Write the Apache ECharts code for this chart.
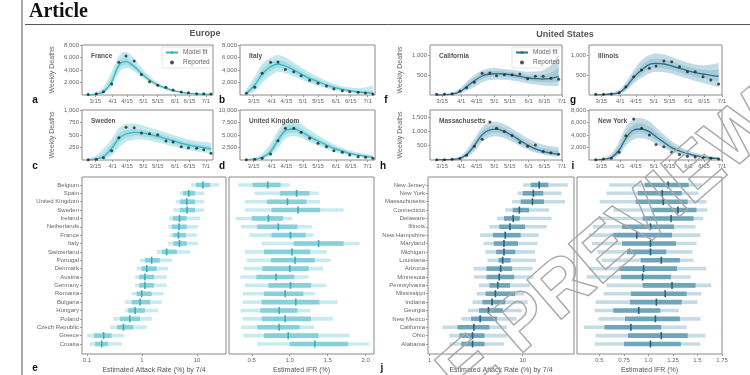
<!DOCTYPE html>
<html>
<head>
<meta charset="utf-8">
<script src="https://cdn.jsdelivr.net/npm/echarts@6/dist/echarts.min.js"></script>
<style>
html, body { margin: 0; padding: 0; background: #fff; }
#chart { width: 750px; height: 375px; }
</style>
</head>
<body>
<div id="chart"></div>
<script>
// x轴日期刻度（以3/1为第0天）
var dateTicks = [14, 31, 45, 61, 75, 92, 106, 122];
var dateLabels = ['3/15', '4/1', '4/15', '5/1', '5/15', '6/1', '6/15', '7/1'];
var euDays = [7, 15, 22, 30, 37, 44, 52, 59, 67, 75, 83, 90, 98, 105, 113, 120, 127];
var usDays = [9, 16, 23, 30, 36, 43, 50, 57, 63, 70, 77, 84, 91, 98, 105, 112, 119];

// 欧洲 每周死亡
var franceReported = [100, 200, 530, 1760, 5230, 6240, 5440, 3300, 2130, 1550, 1230, 800, 480, 370, 210, 210, 160];
var franceFit = [30, 120, 500, 2100, 4750, 5330, 4550, 3450, 2400, 1600, 1070, 700, 430, 270, 170, 120, 90];
var franceLo95 = [0, 40, 250, 1300, 3600, 4300, 3800, 2900, 2000, 1300, 850, 520, 300, 170, 90, 50, 30];
var franceHi95 = [150, 500, 1300, 3700, 6300, 6900, 5900, 4400, 3000, 2000, 1350, 900, 600, 420, 320, 260, 220];
var franceLo50 = [10, 80, 380, 1750, 4200, 4800, 4200, 3200, 2200, 1450, 950, 610, 370, 220, 130, 85, 60];
var franceHi50 = [80, 250, 800, 2800, 5400, 5900, 5000, 3800, 2650, 1780, 1200, 800, 510, 340, 230, 170, 140];

var italyReported = [270, 1230, 3470, 5230, 5280, 4100, 3730, 3100, 2350, 1870, 1440, 960, 690, 530, 430, 320, 160];
var italyFit = [250, 1600, 3360, 4530, 4960, 4640, 4000, 3360, 2670, 2130, 1600, 1230, 900, 690, 480, 370, 270];
var italyLo95 = [50, 600, 1900, 3100, 3700, 3500, 3000, 2500, 1900, 1500, 1100, 800, 550, 380, 230, 130, 60];
var italyHi95 = [900, 3000, 5000, 6000, 6400, 6000, 5200, 4400, 3600, 2900, 2300, 1800, 1400, 1200, 1100, 1200, 1600];
var italyLo50 = [120, 1050, 2650, 3850, 4350, 4050, 3450, 2900, 2250, 1800, 1320, 1000, 720, 530, 350, 240, 160];
var italyHi50 = [450, 2200, 4100, 5200, 5600, 5300, 4550, 3850, 3100, 2500, 1900, 1500, 1120, 900, 720, 650, 700];

var swedenReported = [7, 13, 47, 187, 447, 653, 647, 540, 527, 507, 380, 360, 267, 247, 233, 207, 133];
var swedenFit = [5, 20, 67, 233, 433, 520, 553, 547, 513, 473, 427, 387, 333, 300, 267, 247, 220];
var swedenLo95 = [0, 2, 15, 90, 250, 360, 410, 410, 390, 350, 310, 270, 230, 200, 170, 150, 130];
var swedenHi95 = [30, 90, 230, 420, 640, 720, 730, 700, 650, 600, 550, 500, 450, 410, 380, 360, 340];
var swedenLo50 = [2, 8, 35, 160, 350, 440, 480, 480, 450, 410, 370, 330, 285, 255, 225, 205, 180];
var swedenHi50 = [15, 45, 130, 320, 520, 600, 620, 610, 570, 530, 480, 440, 385, 350, 315, 295, 270];

var ukReported = [67, 133, 333, 1200, 3870, 6330, 6330, 5530, 4330, 3330, 2670, 1870, 1530, 1000, 670, 530, 330];
var ukFit = [50, 150, 467, 1670, 4000, 5870, 6200, 5670, 4670, 3800, 3000, 2330, 1800, 1330, 1000, 730, 530];
var ukLo95 = [5, 40, 180, 900, 2400, 4200, 4800, 4400, 3600, 2900, 2250, 1700, 1250, 900, 620, 420, 270];
var ukHi95 = [150, 450, 1300, 3300, 5900, 7800, 8000, 7200, 6000, 4900, 3900, 3100, 2450, 1900, 1500, 1200, 1000];
var ukLo50 = [20, 80, 300, 1250, 3200, 5000, 5450, 5000, 4100, 3350, 2600, 2000, 1500, 1100, 790, 560, 380];
var ukHi50 = [80, 260, 800, 2400, 4900, 6700, 7000, 6350, 5250, 4300, 3400, 2700, 2100, 1600, 1230, 940, 740];

// 美国 每周死亡
var caReported = [17, 25, 33, 100, 183, 317, 542, 550, 483, 508, 508, 525, 408, 467, 467, 417, 392];
var caFit = [0, 5, 20, 83, 208, 358, 475, 525, 533, 525, 500, 467, 425, 408, 400, 417, 458];
var caLo95 = [0, 0, 5, 30, 110, 200, 320, 375, 390, 380, 360, 333, 290, 260, 240, 225, 233];
var caHi95 = [5, 20, 60, 170, 330, 500, 620, 667, 670, 650, 630, 600, 583, 590, 620, 750, 1000];
var caLo50 = [0, 2, 10, 55, 160, 290, 400, 450, 460, 455, 430, 400, 360, 335, 320, 320, 340];
var caHi50 = [2, 10, 35, 120, 270, 430, 550, 600, 605, 590, 565, 530, 500, 495, 505, 560, 680];

var ilReported = [17, 17, 25, 58, 208, 458, 625, 667, 725, 850, 833, 708, 583, 583, 458, 375, 275];
var ilFit = [5, 10, 25, 58, 192, 442, 625, 767, 792, 775, 725, 667, 608, 558, 525, 492, 467];
var ilLo95 = [0, 2, 8, 25, 100, 290, 430, 540, 580, 570, 530, 470, 410, 350, 300, 250, 200];
var ilHi95 = [10, 25, 60, 130, 320, 620, 870, 1000, 1040, 1010, 950, 880, 810, 760, 740, 760, 800];
var ilLo50 = [2, 5, 15, 40, 140, 360, 520, 650, 680, 665, 620, 565, 505, 455, 420, 380, 340];
var ilHi50 = [7, 16, 40, 90, 250, 530, 740, 880, 910, 890, 840, 775, 710, 660, 630, 620, 630];

var maReported = [11, 11, 22, 56, 167, 478, 722, 1333, 1111, 1000, 856, 611, 478, 522, 300, 256, 200];
var maFit = [5, 10, 20, 56, 189, 500, 889, 1056, 1078, 1000, 856, 689, 522, 389, 300, 244, 200];
var maLo95 = [0, 2, 6, 20, 90, 300, 640, 800, 830, 760, 640, 500, 370, 260, 190, 140, 111];
var maHi95 = [15, 30, 60, 130, 350, 750, 1150, 1320, 1333, 1250, 1100, 930, 760, 630, 540, 480, 444];
var maLo50 = [2, 5, 11, 35, 140, 400, 760, 920, 950, 880, 740, 580, 430, 310, 230, 180, 145];
var maHi50 = [9, 18, 35, 85, 260, 620, 1010, 1180, 1200, 1120, 970, 800, 630, 500, 410, 360, 320];

var nyReported = [53, 160, 270, 1230, 3890, 6560, 5070, 4000, 2500, 2130, 1230, 900, 590, 480, 370, 270, 160];
var nyFit = [30, 100, 373, 1600, 3470, 4800, 4960, 4530, 3730, 2830, 1970, 1440, 1010, 690, 480, 320, 210];
var nyLo95 = [5, 25, 130, 800, 2300, 3300, 3500, 3200, 2600, 1900, 1300, 900, 600, 390, 250, 160, 100];
var nyHi95 = [100, 330, 1000, 3000, 5300, 6500, 6700, 6200, 5200, 4100, 3000, 2200, 1600, 1150, 850, 620, 480];
var nyLo50 = [15, 55, 230, 1150, 2900, 4100, 4250, 3850, 3150, 2350, 1600, 1150, 790, 530, 350, 230, 150];
var nyHi50 = [60, 190, 650, 2300, 4400, 5700, 5850, 5400, 4500, 3500, 2500, 1830, 1300, 920, 670, 480, 350];

// 欧洲 感染率 / IFR
var euNames = ['Belgium', 'Spain', 'United Kingdom', 'Sweden', 'Ireland', 'Netherlands', 'France', 'Italy', 'Switzerland', 'Portugal',
	'Denmark', 'Austria', 'Germany', 'Romania', 'Bulgaria', 'Hungary', 'Poland', 'Czech Republic', 'Greece', 'Croatia'];
var euAttackMed = [12.8, 7.1, 6.5, 6.6, 4.8, 4.7, 4.6, 4.8, 2.8, 1.5, 1.22, 1.13, 1.13, 0.99, 0.92, 0.75, 0.6, 0.46, 0.2, 0.185];
var euAttackLo95 = [7.8, 4.9, 4.1, 3.7, 3.1, 3.0, 3.2, 3.0, 1.85, 0.92, 0.8, 0.75, 0.75, 0.65, 0.49, 0.49, 0.3, 0.26, 0.1, 0.113];
var euAttackHi95 = [25, 13.4, 13.4, 13.4, 11.3, 10.4, 9.9, 10.4, 7.5, 3.5, 3.0, 2.8, 2.8, 2.45, 2.3, 1.96, 1.5, 1.22, 0.47, 0.43];
var euAttackLo50 = [9.6, 5.6, 4.9, 4.9, 3.6, 3.5, 3.7, 3.7, 2.3, 1.13, 0.99, 0.89, 0.89, 0.8, 0.65, 0.56, 0.4, 0.35, 0.134, 0.14];
var euAttackHi50 = [17.2, 9.2, 9.2, 9.2, 6.5, 6.5, 6.3, 6.5, 4.3, 2.1, 1.85, 1.65, 1.65, 1.5, 1.4, 1.13, 0.92, 0.69, 0.28, 0.24];
var euIfrMed = [0.71, 1.09, 0.97, 1.11, 0.72, 0.85, 1.01, 1.38, 1.03, 1.07, 1.0, 0.82, 1.01, 0.94, 1.08, 0.86, 0.94, 0.86, 0.98, 1.33];
var euIfrLo95 = [0.32, 0.54, 0.41, 0.41, 0.29, 0.36, 0.47, 0.63, 0.41, 0.43, 0.39, 0.35, 0.41, 0.38, 0.38, 0.35, 0.38, 0.36, 0.39, 0.57];
var euIfrHi95 = [1.0, 1.38, 1.40, 1.71, 1.03, 1.29, 1.31, 1.92, 1.49, 1.54, 1.44, 1.25, 1.48, 1.33, 1.63, 1.27, 1.57, 1.32, 1.79, 2.05];
var euIfrLo50 = [0.51, 0.87, 0.70, 0.76, 0.5, 0.57, 0.76, 1.05, 0.66, 0.75, 0.64, 0.56, 0.72, 0.66, 0.63, 0.61, 0.63, 0.57, 0.66, 1.0];
var euIfrHi50 = [0.88, 1.26, 1.22, 1.40, 0.91, 1.10, 1.21, 1.71, 1.27, 1.33, 1.25, 1.06, 1.28, 1.18, 1.39, 1.10, 1.28, 1.13, 1.38, 1.77];

// 美国 感染率 / IFR
var usNames = ['New Jersey', 'New York', 'Massachusetts', 'Connecticut', 'Delaware', 'Illinois', 'New Hampshire', 'Maryland', 'Michigan', 'Louisiana',
	'Arizona', 'Minnesota', 'Pennsylvania', 'Mississippi', 'Indiana', 'Georgia', 'New Mexico', 'California', 'Ohio', 'Alabama'];
var usAttackMed = [15.0, 13.0, 12.7, 9.2, 7.9, 7.3, 6.5, 6.3, 6.3, 6.1, 5.8, 5.6, 5.4, 5.1, 4.7, 4.3, 3.5, 3.0, 2.9, 2.9];
var usAttackLo95 = [10.1, 8.8, 7.7, 6.5, 5.3, 4.4, 3.5, 3.8, 4.0, 4.2, 3.0, 3.0, 3.4, 3.2, 2.9, 2.6, 2.2, 1.38, 1.64, 1.64];
var usAttackHi95 = [30.3, 26.1, 28.4, 19.2, 20.4, 18.1, 14.9, 14.4, 13.5, 13.9, 12.7, 13.0, 11.9, 10.4, 11.3, 9.7, 8.6, 6.8, 6.8, 6.3];
var usAttackLo50 = [12.2, 10.0, 9.5, 7.8, 6.3, 5.6, 4.8, 4.9, 5.2, 5.5, 4.1, 4.1, 4.4, 4.0, 3.7, 3.4, 2.8, 2.0, 2.1, 2.2];
var usAttackHi50 = [18.8, 16.6, 16.9, 11.7, 9.3, 10.6, 9.5, 8.9, 8.3, 7.4, 7.7, 8.1, 7.3, 8.3, 6.5, 6.1, 5.3, 4.4, 3.9, 3.9];
var usIfrMed = [1.20, 1.14, 1.15, 1.30, 1.23, 1.02, 0.88, 1.02, 1.02, 1.13, 0.95, 0.94, 1.24, 1.17, 1.08, 0.90, 1.07, 0.82, 1.13, 1.02];
var usIfrLo95 = [0.60, 0.57, 0.50, 0.64, 0.49, 0.43, 0.39, 0.42, 0.48, 0.52, 0.39, 0.37, 0.57, 0.54, 0.46, 0.45, 0.49, 0.34, 0.46, 0.45];
var usIfrHi95 = [1.54, 1.51, 1.59, 1.60, 1.56, 1.48, 1.53, 1.49, 1.45, 1.46, 1.59, 1.43, 1.64, 1.54, 1.50, 1.31, 1.53, 1.39, 1.58, 1.53];
var usIfrLo50 = [0.96, 0.89, 0.87, 1.03, 0.94, 0.73, 0.64, 0.73, 0.78, 0.92, 0.70, 0.72, 0.94, 0.82, 0.81, 0.64, 0.76, 0.55, 0.79, 0.75];
var usIfrHi50 = [1.41, 1.34, 1.40, 1.49, 1.46, 1.26, 1.24, 1.28, 1.18, 1.32, 1.29, 1.23, 1.48, 1.39, 1.34, 1.12, 1.32, 1.13, 1.40, 1.33];

// 颜色
var euColor = { line: '#3cb5c1', b95: '#c2e9ee', b50: '#a2dde4', f95: '#c8ebef', f50: '#86d0d9', fMed: '#3aaebb' };
var usColor = { line: '#2b6f8c', b95: '#c3dbe4', b50: '#a7cad7', f95: '#c6dce4', f50: '#6fa5b8', fMed: '#2a6278' };
var labelFont = 'Liberation Sans';

var grids = [], xAxes = [], yAxes = [], series = [], titles = [];

function pairs(xs, ys) {
	var out = [];
	for (var i = 0; i < xs.length; i++) {
		out.push([xs[i], ys[i]]);
	}
	return out;
}

function thousands(v) {
	return String(v).replace(/\B(?=(\d{3})+(?!\d))/g, ',');
}

// 平滑路径（Catmull-Rom 转三次贝塞尔），pts 为像素坐标
function smoothPath(pts, moveFirst) {
	var d = (moveFirst ? 'M' : 'L') + pts[0][0].toFixed(2) + ',' + pts[0][1].toFixed(2);
	for (var i = 0; i < pts.length - 1; i++) {
		var p0 = pts[i > 0 ? i - 1 : i], p1 = pts[i], p2 = pts[i + 1], p3 = pts[i + 2 < pts.length ? i + 2 : i + 1];
		var c1x = p1[0] + (p2[0] - p0[0]) / 6, c1y = p1[1] + (p2[1] - p0[1]) / 6;
		var c2x = p2[0] - (p3[0] - p1[0]) / 6, c2y = p2[1] - (p3[1] - p1[1]) / 6;
		d += 'C' + c1x.toFixed(2) + ',' + c1y.toFixed(2) + ' ' + c2x.toFixed(2) + ',' + c2y.toFixed(2) + ' ' + p2[0].toFixed(2) + ',' + p2[1].toFixed(2);
	}
	return d;
}

// 区间带：custom 系列，数据为 [day, lo, hi]
function bandRender(days, lo, hi, color) {
	return function(params, api) {
		if (params.dataIndexInside !== 0) return null;
		var up = [], dn = [];
		for (var k = 0; k < days.length; k++) {
			up.push(api.coord([days[k], hi[k]]));
			dn.push(api.coord([days[k], lo[k]]));
		}
		dn.reverse();
		return { type: 'path', shape: { pathData: smoothPath(up, true) + smoothPath(dn, false) + 'Z' }, style: { fill: color } };
	};
}

// 每周死亡小图
function addTimePanel(p) {
	var i = grids.length;
	grids.push({ left: p.left, top: p.top, width: p.width, height: 50, show: true, borderColor: '#8a8a8a', borderWidth: 1 });
	xAxes.push({
		gridIndex: i, type: 'value', min: p.xmin, max: p.xmax,
		axisLine: { show: false, onZero: false }, splitLine: { show: false },
		axisTick: { show: true, customValues: dateTicks, length: 2, lineStyle: { color: '#999' } },
		axisLabel: {
			customValues: dateTicks, fontSize: 6, color: '#666', margin: 3, fontFamily: labelFont,
			formatter: function(v) { return dateLabels[dateTicks.indexOf(v)]; }
		}
	});
	yAxes.push({
		gridIndex: i, type: 'value', min: 0, max: p.ymax,
		name: p.yName || '', nameLocation: 'middle', nameGap: 26, nameRotate: 90,
		nameTextStyle: { fontSize: 7, color: '#666', fontFamily: labelFont },
		axisLine: { show: false }, splitLine: { show: false },
		axisTick: { show: true, customValues: p.yTicks, length: 2, lineStyle: { color: '#999' } },
		axisLabel: { customValues: p.yTicks, fontSize: 6, color: '#666', margin: 3, fontFamily: labelFont, formatter: thousands }
	});
	titles.push({ text: p.title, left: p.left + 4, top: p.top + 3, textStyle: { fontSize: 6.5, fontWeight: 'bold', color: '#555', fontFamily: labelFont } });

	var c = p.color;
	var bands = [[p.lo95, p.hi95, c.b95], [p.lo50, p.hi50, c.b50]];
	for (var b = 0; b < bands.length; b++) {
		var lo = bands[b][0], hi = bands[b][1];
		var data = [];
		for (var k = 0; k < lo.length; k++) data.push([p.days[k], lo[k], hi[k]]);
		series.push({
			type: 'custom', xAxisIndex: i, yAxisIndex: i, data: data, encode: { x: 0, y: [1, 2] },
			renderItem: bandRender(p.days, lo, hi, bands[b][2]), clip: true, silent: true, z: 1
		});
	}
	series.push({
		name: 'Model fit', type: 'line', xAxisIndex: i, yAxisIndex: i, data: pairs(p.days, p.fit),
		symbol: 'none', smooth: 0.35, lineStyle: { color: c.line, width: 1.3 }, itemStyle: { color: c.line }, z: 3
	});
	series.push({
		name: 'Reported', type: 'scatter', xAxisIndex: i, yAxisIndex: i, data: pairs(p.days, p.reported),
		symbolSize: 3, itemStyle: { color: '#222' }, z: 4
	});
}

// 区间图
function forestRender(colors) {
	return function(params, api) {
		var k = api.value(0);
		var a95 = api.coord([api.value(1), k]), b95 = api.coord([api.value(2), k]);
		var a50 = api.coord([api.value(3), k]), b50 = api.coord([api.value(4), k]);
		var m = api.coord([api.value(5), k]);
		return {
			type: 'group', children: [
				{ type: 'rect', shape: { x: a95[0], y: a95[1] - 1.8, width: b95[0] - a95[0], height: 3.6 }, style: { fill: colors.f95 } },
				{ type: 'rect', shape: { x: a50[0], y: a50[1] - 2.3, width: b50[0] - a50[0], height: 4.6 }, style: { fill: colors.f50 } },
				{ type: 'rect', shape: { x: m[0] - 0.8, y: m[1] - 3.5, width: 1.6, height: 7 }, style: { fill: colors.fMed } }
			]
		};
	};
}

function addForestPanel(p) {
	var i = grids.length;
	var idx = [];
	for (var k = 0; k < p.names.length; k++) idx.push(k);
	grids.push({ left: p.left, top: 177, width: p.width, height: 179, show: true, borderColor: '#8a8a8a', borderWidth: 1 });
	xAxes.push({
		gridIndex: i, type: p.log ? 'log' : 'value', logBase: 10, min: p.xmin, max: p.xmax,
		name: p.xName, nameLocation: 'middle', nameGap: 13,
		nameTextStyle: { fontSize: 7, color: '#555', fontFamily: labelFont },
		axisLine: { show: false, onZero: false }, splitLine: { show: false },
		axisTick: { show: true, customValues: p.ticks, length: 2, lineStyle: { color: '#999' } },
		axisLabel: {
			customValues: p.ticks, fontSize: 6, color: '#666', margin: 3, fontFamily: labelFont,
			formatter: function(v) { return p.tickLabels[p.ticks.indexOf(v)]; }
		}
	});
	yAxes.push({
		gridIndex: i, type: 'value', inverse: true, min: -0.95, max: 20.2,
		axisLine: { show: false, onZero: false }, splitLine: { show: false },
		axisTick: { show: p.showNames, customValues: idx, length: 2, lineStyle: { color: '#999' } },
		axisLabel: {
			show: p.showNames, customValues: idx, fontSize: 6, color: '#666', margin: 3, fontFamily: labelFont,
			formatter: function(v) { return p.names[v]; }
		}
	});
	var data = [];
	for (var j = 0; j < p.names.length; j++) {
		data.push([j, p.lo95[j], p.hi95[j], p.lo50[j], p.hi50[j], p.med[j]]);
	}
	series.push({
		type: 'custom', xAxisIndex: i, yAxisIndex: i, data: data, clip: true,
		encode: { x: [1, 2, 3, 4, 5], y: 0 }, renderItem: forestRender(p.color), silent: true
	});
}

addTimePanel({ title: 'France', left: 82, top: 45, width: 131, xmin: 1, xmax: 129, ymax: 8000, yTicks: [2000, 4000, 6000, 8000], yName: 'Weekly Deaths',
	days: euDays, reported: franceReported, fit: franceFit, lo95: franceLo95, hi95: franceHi95, lo50: franceLo50, hi50: franceHi50, color: euColor });
addTimePanel({ title: 'Italy', left: 240, top: 45, width: 135, xmin: 1, xmax: 129, ymax: 8000, yTicks: [2000, 4000, 6000, 8000],
	days: euDays, reported: italyReported, fit: italyFit, lo95: italyLo95, hi95: italyHi95, lo50: italyLo50, hi50: italyHi50, color: euColor });
addTimePanel({ title: 'Sweden', left: 82, top: 110, width: 131, xmin: 1, xmax: 129, ymax: 1000, yTicks: [250, 500, 750, 1000], yName: 'Weekly Deaths',
	days: euDays, reported: swedenReported, fit: swedenFit, lo95: swedenLo95, hi95: swedenHi95, lo50: swedenLo50, hi50: swedenHi50, color: euColor });
addTimePanel({ title: 'United Kingdom', left: 240, top: 110, width: 135, xmin: 1, xmax: 129, ymax: 10000, yTicks: [2500, 5000, 7500, 10000],
	days: euDays, reported: ukReported, fit: ukFit, lo95: ukLo95, hi95: ukHi95, lo50: ukLo50, hi50: ukHi50, color: euColor });
addTimePanel({ title: 'California', left: 430, top: 45, width: 132, xmin: 3, xmax: 122, ymax: 1250, yTicks: [500, 1000], yName: 'Weekly Deaths',
	days: usDays, reported: caReported, fit: caFit, lo95: caLo95, hi95: caHi95, lo50: caLo50, hi50: caHi50, color: usColor });
addTimePanel({ title: 'Illinois', left: 589, top: 45, width: 133, xmin: 3, xmax: 122, ymax: 1250, yTicks: [500, 1000],
	days: usDays, reported: ilReported, fit: ilFit, lo95: ilLo95, hi95: ilHi95, lo50: ilLo50, hi50: ilHi50, color: usColor });
addTimePanel({ title: 'Massachusetts', left: 430, top: 110, width: 132, xmin: 3, xmax: 122, ymax: 1750, yTicks: [500, 1000, 1500], yName: 'Weekly Deaths',
	days: usDays, reported: maReported, fit: maFit, lo95: maLo95, hi95: maHi95, lo50: maLo50, hi50: maHi50, color: usColor });
addTimePanel({ title: 'New York', left: 589, top: 110, width: 133, xmin: 3, xmax: 122, ymax: 8000, yTicks: [2000, 4000, 6000, 8000],
	days: usDays, reported: nyReported, fit: nyFit, lo95: nyLo95, hi95: nyHi95, lo50: nyLo50, hi50: nyHi50, color: usColor });

addForestPanel({ left: 82, width: 144, log: true, xmin: 0.081, xmax: 33.7, ticks: [0.1, 1, 10], tickLabels: ['0.1', '1', '10'],
	xName: 'Estimated Attack Rate (%) by 7/4', names: euNames, showNames: true,
	med: euAttackMed, lo95: euAttackLo95, hi95: euAttackHi95, lo50: euAttackLo50, hi50: euAttackHi50, color: euColor });
addForestPanel({ left: 229, width: 145, log: false, xmin: 0.2, xmax: 2.11, ticks: [0.5, 1, 1.5, 2], tickLabels: ['0.5', '1.0', '1.5', '2.0'],
	xName: 'Estimated IFR (%)', names: euNames, showNames: false,
	med: euIfrMed, lo95: euIfrLo95, hi95: euIfrHi95, lo50: euIfrLo50, hi50: euIfrHi50, color: euColor });
addForestPanel({ left: 428, width: 146, log: true, xmin: 0.968, xmax: 35.4, ticks: [1, 10], tickLabels: ['1', '10'],
	xName: 'Estimated Attack Rate (%) by 7/4', names: usNames, showNames: true,
	med: usAttackMed, lo95: usAttackLo95, hi95: usAttackHi95, lo50: usAttackLo50, hi50: usAttackHi50, color: usColor });
addForestPanel({ left: 577, width: 145, log: false, xmin: 0.27, xmax: 1.75, ticks: [0.5, 0.75, 1, 1.25, 1.5, 1.75], tickLabels: ['0.5', '0.75', '1.0', '1.25', '1.5', '1.75'],
	xName: 'Estimated IFR (%)', names: usNames, showNames: false,
	med: usIfrMed, lo95: usIfrLo95, hi95: usIfrHi95, lo50: usIfrLo50, hi50: usIfrHi50, color: usColor });

// 面板字母
var letters = [['a', 35, 100], ['b', 222, 100], ['c', 35, 166], ['d', 222, 166], ['f', 386, 100], ['g', 573, 100],
	['h', 383, 166], ['i', 573, 166], ['e', 35, 368], ['j', 382, 368]];
var graphics = [];
for (var n = 0; n < letters.length; n++) {
	graphics.push({ type: 'text', x: letters[n][1], y: letters[n][2], style: { text: letters[n][0], font: 'bold 10px "Liberation Sans"', fill: '#111', textAlign: 'center', textVerticalAlign: 'middle' } });
}
graphics.push({ type: 'line', shape: { x1: 22, y1: 0, x2: 22, y2: 375 }, style: { stroke: '#555', lineWidth: 1 } });
graphics.push({ type: 'line', shape: { x1: 25, y1: 24.5, x2: 750, y2: 24.5 }, style: { stroke: '#555', lineWidth: 1 } });
graphics.push({ type: 'text', x: 29, y: 2, style: { text: 'Article', font: 'bold 20px "Liberation Serif"', fill: '#111' } });
graphics.push({ type: 'text', x: 205, y: 34, style: { text: 'Europe', font: 'bold 9px "Liberation Sans"', fill: '#555', textAlign: 'center', textVerticalAlign: 'middle' } });
graphics.push({ type: 'text', x: 565, y: 35, style: { text: 'United States', font: 'bold 9px "Liberation Sans"', fill: '#555', textAlign: 'center', textVerticalAlign: 'middle' } });
// 水印
graphics.push({ type: 'text', x: 770, y: 110, rotation: 41 * Math.PI / 180, z: 100, silent: true,
	style: { text: 'ACCELERATED ARTICLE PREVIEW', font: 'bold 76px "Liberation Sans"', fill: 'rgba(255,255,255,0)', stroke: '#a8a8a8', lineWidth: 1.4, textAlign: 'right', textVerticalAlign: 'middle' } });

var legendText = { fontSize: 6.5, color: '#666', fontFamily: labelFont };
var option = {
	animation: false,
	title: titles,
	grid: grids,
	xAxis: xAxes,
	yAxis: yAxes,
	series: series,
	graphic: graphics,
	legend: [{
		left: 162, top: 47, orient: 'vertical', itemGap: 3, itemWidth: 12, itemHeight: 4, padding: [2, 3],
		borderColor: '#ccc', borderWidth: 0.5, textStyle: legendText, selectedMode: false,
		data: [{ name: 'Model fit', itemStyle: { color: euColor.line }, lineStyle: { color: euColor.line } }, { name: 'Reported', icon: 'circle', itemStyle: { color: '#222' } }]
	}, {
		left: 512, top: 47, orient: 'vertical', itemGap: 3, itemWidth: 12, itemHeight: 4, padding: [2, 3],
		borderColor: '#ccc', borderWidth: 0.5, textStyle: legendText, selectedMode: false,
		data: [{ name: 'Model fit', itemStyle: { color: usColor.line }, lineStyle: { color: usColor.line } }, { name: 'Reported', icon: 'circle', itemStyle: { color: '#222' } }]
	}]
};

var myChart = echarts.init(document.getElementById('chart'), null, { renderer: 'canvas' });
myChart.setOption(option);
</script>
</body>
</html>
